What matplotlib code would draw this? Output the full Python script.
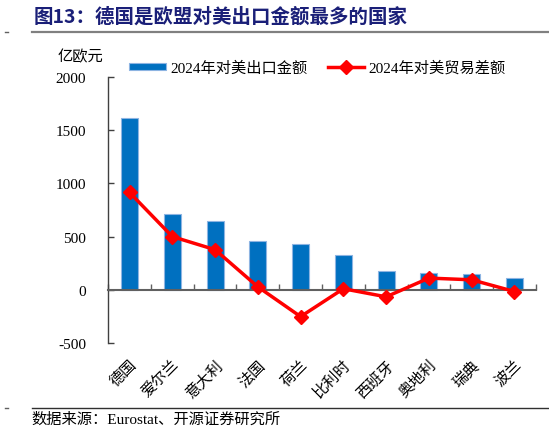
import matplotlib
matplotlib.use('Agg')
import matplotlib.pyplot as plt
import matplotlib as mpl
from matplotlib.lines import Line2D

mpl.rcParams.update({
    'font.family': ['Liberation Serif', 'Noto Sans CJK SC'],
    'font.size': 11,
    'axes.linewidth': 1.0,
})

countries = ['德国', '爱尔兰', '意大利', '法国', '荷兰', '比利时', '西班牙', '奥地利', '瑞典', '波兰']
exports = [1613, 717, 642, 462, 427, 324, 179, 154, 151, 110]
balance = [915, 500, 377, 28, -252, 10, -66, 110, 94, -16]

yticks = [-500, 0, 500, 1000, 1500, 2000]

title = '图13：德国是欧盟对美出口金额最多的国家'
source = '数据来源：Eurostat、开源证券研究所'
unit = '亿欧元'
label_bar = '2024年对美出口金额'
label_line = '2024年对美贸易差额'

bar_color = '#0070C0'
line_color = '#FF0000'

fig = plt.figure(figsize=(5.49, 4.39), dpi=100)
ax = fig.add_axes([0.197, 0.2164, 0.779, 0.6059])

x = list(range(len(countries)))
bars = ax.bar(x, exports, width=0.4, color=bar_color, edgecolor='#8DB4E2',
              linewidth=0.8, label=label_bar, zorder=2)
line, = ax.plot(x, balance, color=line_color, linewidth=2.5, marker='D',
                markersize=7, label=label_line, zorder=3)

ax.set_xlim(-0.5, len(countries) - 0.5)
ax.set_ylim(-500, 2000)
ax.set_yticks(yticks)
ax.set_yticklabels([str(v) for v in yticks])
ax.tick_params(axis='y', direction='in', length=4, width=1, pad=16,
               labelsize=11, color='#404040')

ax.spines['top'].set_visible(False)
ax.spines['right'].set_visible(False)
ax.spines['left'].set_color('#404040')
ax.spines['bottom'].set_position(('data', 0))
ax.spines['bottom'].set_color('#606060')
ax.spines['bottom'].set_linewidth(1.5)
ax.set_xticks([i - 0.5 for i in range(len(countries) + 1)])
ax.set_xticklabels([])
ax.tick_params(axis='x', direction='in', length=4, width=1, color='#606060')

sec = ax.secondary_xaxis('bottom')
sec.set_xticks(x)
sec.set_xticklabels(countries, rotation=45, ha='right',
                    rotation_mode='anchor', fontsize=11)
sec.tick_params(length=0, pad=10)
sec.spines['bottom'].set_visible(False)

ax.legend([bars, line], [label_bar, label_line], loc='lower left',
          bbox_to_anchor=(0.035, 0.985), ncol=2, frameon=False,
          fontsize=11, handlelength=2.4, handleheight=0.3, columnspacing=1.3,
          handletextpad=0.3, borderaxespad=0)

fig.text(0.104, 0.87, unit, fontsize=11, va='center')

fig.text(0.062, 0.962, title, fontsize=14, fontweight='bold', color='#1A1F78',
         va='center', family=['Noto Sans CJK SC'])
fig.text(0.058, 0.043, source, fontsize=11, va='center')

fig.lines.append(Line2D([0.058, 1.0], [0.925, 0.925], transform=fig.transFigure,
                        color='#808080', linewidth=1.6))
fig.lines.append(Line2D([0.058, 1.0], [0.068, 0.068], transform=fig.transFigure,
                        color='#303030', linewidth=1.0))
fig.lines.append(Line2D([0.009, 0.014], [0.925, 0.925], transform=fig.transFigure,
                        color='#606060', linewidth=1.0))
fig.lines.append(Line2D([0.009, 0.014], [0.068, 0.068], transform=fig.transFigure,
                        color='#606060', linewidth=1.0))

fig.savefig('out.png', dpi=100)
